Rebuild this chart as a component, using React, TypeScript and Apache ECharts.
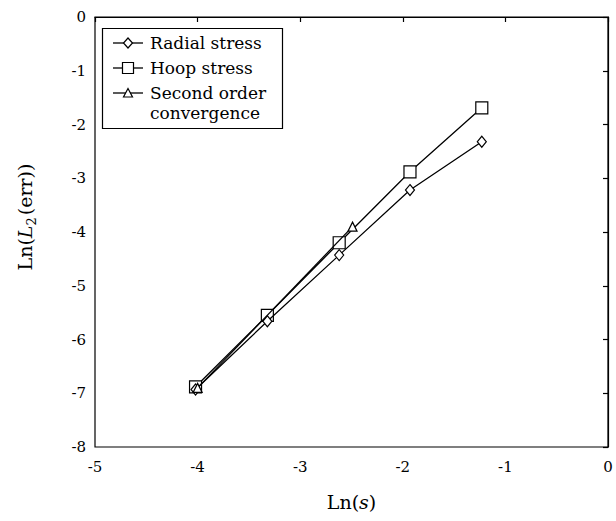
import React, { useEffect, useRef } from "react";
import * as echarts from "echarts";

const xValues = [-4.02, -3.32, -2.62, -1.93, -1.23];
const radialStress = [-6.93, -5.66, -4.43, -3.22, -2.32];
const hoopStress = [-6.88, -5.55, -4.2, -2.88, -1.69];
const secondOrderX = [-4.0, -2.49];
const secondOrderY = [-6.9, -3.9];
const legendNames = ["Radial stress", "Hoop stress", "Second order", "convergence"];

const FONT = "DejaVu Serif";

function pairs(xs: number[], ys: number[]) {
  return xs.map((x, i) => [x, ys[i]]);
}

export default function App() {
  const ref = useRef<HTMLDivElement>(null);
  useEffect(() => {
    const chart = echarts.init(ref.current!, null, { renderer: "svg" });
    const lineStyle = { color: "#000", width: 1.3 };
    const itemStyle = { color: "#fff", borderColor: "#000", borderWidth: 1.2 };
    const lx1 = 113, lx2 = 143, mx = 128, tx = 150;
    const rows = [43, 68, 93, 113];
    const richName = {
      a: { fontFamily: FONT, fontSize: 19, color: "#000", lineHeight: 26 },
      i: { fontFamily: FONT, fontSize: 19, color: "#000", fontStyle: "italic", lineHeight: 26 },
      s: { fontFamily: FONT, fontSize: 13, color: "#000", verticalAlign: "bottom", lineHeight: 26, padding: [0, 2, 0, 0] },
    };
    chart.setOption({
      animation: false,
      backgroundColor: "#fff",
      grid: { left: 95, right: 8, top: 17, bottom: 74, show: true, borderColor: "#000", borderWidth: 1.2 },
      xAxis: {
        type: "value",
        min: -5,
        max: 0,
        interval: 1,
        splitLine: { show: false },
        axisLine: { lineStyle: { color: "#000", width: 1.2 } },
        axisTick: { show: true, length: 5, lineStyle: { color: "#000", width: 1.2 } },
        axisLabel: { color: "#000", fontFamily: FONT, fontSize: 15, margin: 12 },
        name: "{a|Ln(}{i|s}{a|)}",
        nameLocation: "middle",
        nameGap: 42,
        nameTextStyle: { rich: richName },
      },
      yAxis: {
        type: "value",
        min: -8,
        max: 0,
        interval: 1,
        splitLine: { show: false },
        axisLine: { lineStyle: { color: "#000", width: 1.2 } },
        axisTick: { show: true, length: 5, lineStyle: { color: "#000", width: 1.2 } },
        axisLabel: { color: "#000", fontFamily: FONT, fontSize: 15, margin: 9 },
      },
      series: [
        {
          name: legendNames[0],
          type: "line",
          data: pairs(xValues, radialStress),
          symbol: "diamond",
          symbolSize: [9, 11],
          lineStyle,
          itemStyle,
          z: 3,
        },
        {
          name: legendNames[1],
          type: "line",
          data: pairs(xValues, hoopStress),
          symbol: "rect",
          symbolSize: 12,
          lineStyle,
          itemStyle,
          z: 2,
        },
        {
          name: legendNames[2] + " " + legendNames[3],
          type: "line",
          data: pairs(secondOrderX, secondOrderY),
          symbol: "triangle",
          symbolSize: [9, 9],
          lineStyle,
          itemStyle,
          z: 4,
        },
      ],
      graphic: [
        {
          type: "text",
          x: 25,
          y: 217,
          rotation: Math.PI / 2,
          style: {
            text: "{a|Ln(}{i|L}{s|2}{a|(err))}",
            rich: richName,
            align: "center",
            verticalAlign: "middle",
          },
          z: 10,
        },
        {
          type: "rect",
          shape: { x: 102.5, y: 28.5, width: 180, height: 100 },
          style: { fill: "#fff", stroke: "#000", lineWidth: 1.2 },
          z: 10,
        },
        ...rows.slice(0, 3).map((y) => ({
          type: "line",
          shape: { x1: lx1, y1: y, x2: lx2, y2: y },
          style: { stroke: "#000", lineWidth: 1.3 },
          z: 11,
        })),
        {
          type: "polygon",
          shape: { points: [[mx, rows[0] - 5], [mx + 4.5, rows[0]], [mx, rows[0] + 5], [mx - 4.5, rows[0]]] },
          style: { fill: "#fff", stroke: "#000", lineWidth: 1.2 },
          z: 12,
        },
        {
          type: "rect",
          shape: { x: mx - 5.5, y: rows[1] - 5.5, width: 11, height: 11 },
          style: { fill: "#fff", stroke: "#000", lineWidth: 1.2 },
          z: 12,
        },
        {
          type: "polygon",
          shape: { points: [[mx, rows[2] - 4.5], [mx + 4.5, rows[2] + 4], [mx - 4.5, rows[2] + 4]] },
          style: { fill: "#fff", stroke: "#000", lineWidth: 1.2 },
          z: 12,
        },
        ...rows.map((y, i) => ({
          type: "text",
          x: tx,
          y,
          style: {
            text: legendNames[i],
            fontFamily: FONT,
            fontSize: 17,
            fill: "#000",
            verticalAlign: "middle",
          },
          z: 12,
        })),
      ],
    });
    return () => chart.dispose();
  }, []);
  return (
    <div
      ref={ref}
      style={{ position: "absolute", left: 0, top: 0, width: 616, height: 521 }}
    />
  );
}
